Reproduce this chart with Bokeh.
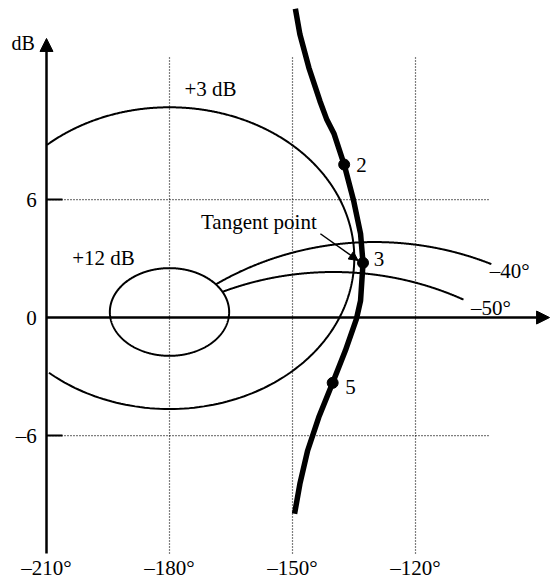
import numpy as np
from bokeh.plotting import figure
from bokeh.models import Range1d, Arrow, NormalHead, ColumnDataSource
from bokeh.core.properties import value
from bokeh.embed import file_html
from bokeh.resources import INLINE

# ---------------- data ----------------
x_ticks = [-210, -180, -150, -120]
x_tick_labels = ["–210°", "–180°", "–150°", "–120°"]
y_ticks = [6, 0, -6]
y_tick_labels = ["6", "0", "–6"]

# open-loop frequency response (phase in degrees, gain in dB)
curve_phase = [-149.3, -148.2, -146.0, -143.3, -141.7, -139.9, -137.4, -135.1,
               -133.4, -132.8, -133.4, -134.4, -137.1, -140.2, -143.6, -146.3,
               -148.2, -149.5]
curve_db = [15.7, 14.4, 12.7, 11.0, 10.1, 9.36, 7.78, 5.95,
            4.26, 2.78, 0.86, -0.07, -1.68, -3.32, -5.07, -6.76,
            -8.46, -9.98]

# marked frequencies on the response
freq_labels = ["2", "3", "5"]
freq_phase = [-137.4, -132.8, -140.2]
freq_db = [7.78, 2.78, -3.32]

# Nichols chart contours
m_levels_db = [3, 12]            # constant closed-loop magnitude
m_labels = ["+3 dB", "+12 dB"]
n_levels_deg = [-40, -50]        # constant closed-loop phase
n_labels = ["–40°", "–50°"]
n_end_phase = [-101.5, -108.3]

# ---------------- layout constants ----------------
X0, X1 = -221.22, -86.83
Y0, Y1 = -13.37, 16.12
AX_XMIN, AX_XTIP = -210, -87.3
AX_YMIN, AX_YTIP = -12, 14.19
GRID_YTOP = 13.22
GRID_XRIGHT = -102.2
FONT = value("Liberation Serif")

p = figure(width=551, height=580, x_range=Range1d(X0, X1), y_range=Range1d(Y0, Y1),
           output_backend="svg", toolbar_location=None, min_border=0,
           x_axis_location=None, y_axis_location=None)
p.grid.visible = False
p.outline_line_color = None
p.background_fill_color = "white"

# dotted grid
for xt in x_ticks[1:]:
    p.line([xt, xt], [AX_YMIN, GRID_YTOP], line_color="black", line_width=1.2, line_dash="1 2")
for yt in y_ticks:
    if yt != 0:
        p.line([AX_XMIN, GRID_XRIGHT], [yt, yt], line_color="black", line_width=1.2, line_dash="1 2")
        p.line([AX_XMIN, AX_XMIN + 3.9], [yt, yt], line_color="black", line_width=2)

# axes with arrows
p.add_layout(Arrow(x_start=AX_XMIN, y_start=0, x_end=AX_XTIP, y_end=0, line_width=2.5,
                   end=NormalHead(size=13, fill_color="black", line_color="black")))
p.add_layout(Arrow(x_start=AX_XMIN, y_start=AX_YMIN, x_end=AX_XMIN, y_end=AX_YTIP, line_width=2.5,
                   end=NormalHead(size=13, fill_color="black", line_color="black")))

# M contours (constant closed-loop magnitude)
t = np.linspace(0, 2 * np.pi, 721)
for mdb in m_levels_db:
    M = 10 ** (mdb / 20)
    c = -M**2 / (M**2 - 1)
    r = M / (M**2 - 1)
    G = c + r * np.exp(1j * t)
    ph = -180 + np.degrees(np.angle(-G))
    gdb = 20 * np.log10(np.abs(G))
    mask = ph < AX_XMIN
    ph = np.where(mask, np.nan, ph)
    gdb = np.where(mask, np.nan, gdb)
    p.line(ph, gdb, line_color="black", line_width=2)

# N contours (constant closed-loop phase), drawn outside the +12 dB circle
for nd, pend in zip(n_levels_deg, n_end_phase):
    psi = np.radians(-nd)
    phi = np.linspace(-179.5, pend, 600)
    g = np.sin(np.radians(-phi) - psi) / np.sin(psi)
    G = g * np.exp(1j * np.radians(phi))
    mcl = 20 * np.log10(np.abs(G / (1 + G)))
    ok = mcl <= max(m_levels_db)
    p.line(phi[ok], 20 * np.log10(g[ok]), line_color="black", line_width=2)

# response curve
p.line(curve_phase, curve_db, line_color="black", line_width=5.5, line_join="round")
p.scatter(freq_phase, freq_db, size=11, color="black")

# tangent point annotation
p.add_layout(Arrow(x_start=-143.2, y_start=4.26, x_end=-134.0, y_end=2.9, line_width=1.5,
                   end=NormalHead(size=9, fill_color="black", line_color="black")))

def txt(x, y, s, size="21px", align="center"):
    src = ColumnDataSource(dict(x=x, y=y, s=s))
    p.text("x", "y", text="s", source=src, text_font=FONT, text_font_size=value(size),
           text_align=align, text_baseline="middle", text_color="black")

txt(x_ticks, [-12.71] * 4, x_tick_labels)
txt([-212.4] * 3, y_ticks, y_tick_labels, align="right")
txt([-215.7], [13.98], ["dB"], size="20px")
txt([-170.0, -196.1], [11.64, 3.05], m_labels)
txt([-97.0, -101.6], [2.36, 0.48], n_labels)
txt([-133.2, -128.9, -135.85], [7.75, 2.98, -3.54], freq_labels)
txt([-158.2], [4.85], ["Tangent point"])

open("out.html", "w").write(file_html(p, INLINE))
